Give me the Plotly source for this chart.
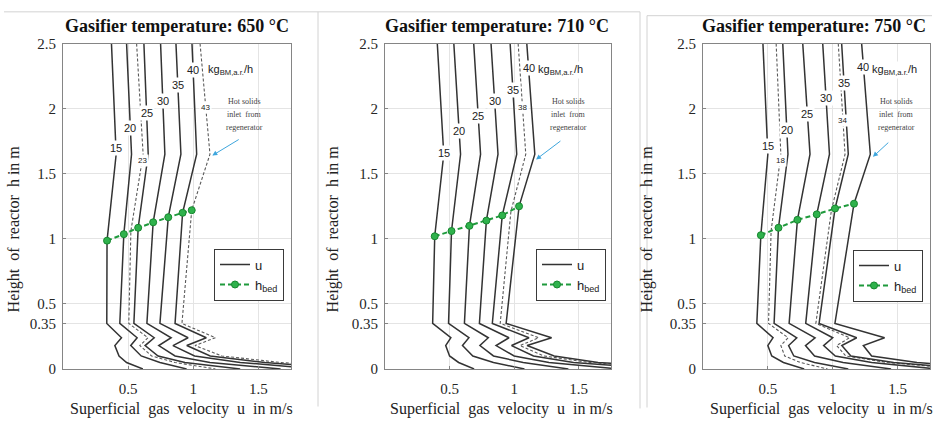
import numpy as np
import plotly.graph_objects as go

# ---------------------------------------------------------------------------
# Data: superficial gas velocity profiles u(h) for different fuel loads
# Each profile row holds u (m/s) at the heights
#   2.5 m (top), hot-solids inlet, bed surface (h_bed), 0.35 m,
#   0.24 m, 0.18 m, 0.10 m, 0.05 m, 0.0 m
# ---------------------------------------------------------------------------
H_TOP = 2.5
H_INLET = 1.65
H_FREEBOARD = 0.35
H_PEAK = 0.24
H_NOTCH = 0.18
H_TAIL = [0.10, 0.05, 0.0]

# 650 °C
LOADS_650 = [15, 20, 23, 25, 30, 35, 40, 43]
DASHED_650 = [23, 43]
H_BED_650 = [0.986, 1.036, 1.06, 1.085, 1.127, 1.166, 1.20, 1.22]
U_650 = [
    [0.372, 0.408, 0.338, 0.336, 0.449, 0.398, 0.430, 0.488, 0.613],
    [0.488, 0.526, 0.467, 0.436, 0.569, 0.520, 0.600, 0.744, 0.949],
    [0.565, 0.615, 0.521, 0.505, 0.652, 0.590, 0.680, 0.860, 1.170],
    [0.621, 0.654, 0.577, 0.544, 0.700, 0.630, 0.730, 0.936, 1.360],
    [0.749, 0.782, 0.692, 0.644, 0.830, 0.735, 0.860, 1.128, 1.670],
    [0.867, 0.905, 0.808, 0.744, 0.960, 0.844, 1.010, 1.360, 1.970],
    [0.990, 1.026, 0.918, 0.860, 1.100, 0.950, 1.130, 1.550, 2.200],
    [1.052, 1.128, 0.988, 0.913, 1.170, 1.013, 1.220, 1.670, 2.360],
]
BED_MARKS_650 = [15, 20, 25, 30, 35, 40, 43]
LABEL_H_650 = [1.70, 1.85, 1.60, 1.97, 2.06, 2.18, 2.30, 2.01]

# 710 °C
LOADS_710 = [15, 20, 25, 30, 35, 38, 40]
DASHED_710 = [38]
H_BED_710 = [1.02, 1.06, 1.10, 1.14, 1.18, 1.21, 1.25]
U_710 = [
    [0.405, 0.455, 0.385, 0.369, 0.510, 0.470, 0.500, 0.570, 0.690],
    [0.533, 0.585, 0.515, 0.492, 0.650, 0.600, 0.680, 0.840, 1.080],
    [0.687, 0.740, 0.654, 0.615, 0.800, 0.735, 0.840, 1.070, 1.420],
    [0.821, 0.875, 0.785, 0.731, 0.960, 0.860, 1.000, 1.270, 1.810],
    [0.969, 1.020, 0.908, 0.831, 1.115, 0.980, 1.150, 1.460, 2.120],
    [1.031, 1.090, 0.975, 0.892, 1.190, 1.045, 1.230, 1.580, 2.270],
    [1.098, 1.160, 1.038, 0.938, 1.290, 1.100, 1.310, 1.650, 2.420],
]
BED_MARKS_710 = [15, 20, 25, 30, 35, 40]
LABEL_H_710 = [1.66, 1.83, 1.94, 2.06, 2.14, 2.01, 2.31]

# 750 °C
LOADS_750 = [15, 18, 20, 25, 30, 34, 35, 40]
DASHED_750 = [18, 34]
H_BED_750 = [1.028, 1.06, 1.085, 1.146, 1.188, 1.22, 1.233, 1.27]
U_750 = [
    [0.462, 0.500, 0.446, 0.415, 0.540, 0.500, 0.530, 0.620, 0.780],
    [0.564, 0.600, 0.525, 0.505, 0.656, 0.600, 0.630, 0.750, 0.960],
    [0.615, 0.655, 0.582, 0.548, 0.723, 0.660, 0.700, 0.860, 1.120],
    [0.769, 0.825, 0.728, 0.664, 0.864, 0.790, 0.860, 1.080, 1.450],
    [0.923, 0.975, 0.877, 0.792, 1.000, 0.930, 1.020, 1.300, 1.800],
    [1.043, 1.095, 0.990, 0.870, 1.130, 1.030, 1.100, 1.420, 2.000],
    [1.069, 1.120, 1.018, 0.895, 1.185, 1.070, 1.140, 1.470, 2.050],
    [1.223, 1.290, 1.164, 1.017, 1.400, 1.236, 1.300, 1.650, 2.300],
]
BED_MARKS_750 = [15, 20, 25, 30, 35, 40]
LABEL_H_750 = [1.71, 1.60, 1.84, 1.96, 2.08, 1.91, 2.20, 2.32]

TEMPERATURES = ["650", "710", "750"]
X_TICKS = [0.5, 1, 1.5]
X_TICK_TEXT = ["0.5", "1", "1.5"]
Y_TICKS = [0, 0.35, 0.5, 1, 1.5, 2, 2.5]
Y_TICK_TEXT = ["0", "0.35", "0.5", "1", "1.5", "2", "2.5"]
NOTE_LINES = ["Hot solids", "inlet  from", "regenerator"]

# ---------------------------------------------------------------------------
# Layout constants (pixels of the 940 x 428 canvas)
# ---------------------------------------------------------------------------
W, H = 940, 428
PLOT_X = [(63, 291), (385, 611), (703, 930)]
PLOT_TOP, PLOT_BOTTOM = 37, 375
TITLE_CX = [177, 497, 814]
XTITLE_CX = [181, 501, 821]
YTITLE_X = [14, 333, 647]
KG_U = [1.10, 1.17, 1.29]
NOTE_U = [1.39, 1.42, 1.49]
NOTE_H = [2.056, 1.953, 1.857]
ARROW = [((1.36, 1.77), (1.146, 1.64)),
         ((1.37, 1.76), (1.17, 1.61)),
         ((1.44, 1.75), (1.31, 1.63))]
LEGEND_BOX = [(284, 250), (606, 250), (923, 251)]

SERIF = "Liberation Serif, Times New Roman, serif"
SANS = "Liberation Sans, Arial, sans-serif"
CURVE_COLOR = "#333333"
DASH_COLOR = "#5a5a5a"
GREEN = "#1f9a3c"


def px_x(p):
    return p / W


def px_y(p):
    return 1 - p / H


panels = [
    (LOADS_650, DASHED_650, H_BED_650, U_650, BED_MARKS_650, LABEL_H_650),
    (LOADS_710, DASHED_710, H_BED_710, U_710, BED_MARKS_710, LABEL_H_710),
    (LOADS_750, DASHED_750, H_BED_750, U_750, BED_MARKS_750, LABEL_H_750),
]

fig = go.Figure()
annotations = []
layout_axes = {}

for i, (loads, dashed, h_bed, u_rows, bed_marks, label_h) in enumerate(panels):
    n = i + 1
    sfx = "" if n == 1 else str(n)
    xref, yref = "x" + sfx, "y" + sfx
    legend_name = "legend" + sfx

    bed_u, bed_h = [], []
    first_solid = True
    for load, hb, u_prof, lh in zip(loads, h_bed, u_rows, label_h):
        h_prof = [H_TOP, H_INLET, hb, H_FREEBOARD, H_PEAK, H_NOTCH] + H_TAIL
        is_dashed = load in dashed
        show = (not is_dashed) and first_solid
        if show:
            first_solid = False
        fig.add_trace(go.Scatter(
            x=u_prof, y=h_prof, mode="lines",
            line=dict(color=DASH_COLOR if is_dashed else CURVE_COLOR,
                      width=1.1 if is_dashed else 1.5,
                      dash="3px,2px" if is_dashed else "solid"),
            name="u", showlegend=show, legend=legend_name,
            xaxis=xref, yaxis=yref, hoverinfo="skip"))
        if load in bed_marks:
            bed_u.append(u_prof[2])
            bed_h.append(hb)
        # inline curve label, placed on the curve in its upper section
        lu = float(np.interp(lh, h_prof[:3][::-1], u_prof[:3][::-1]))
        annotations.append(dict(
            x=lu, y=lh, xref=xref, yref=yref, text=str(load), showarrow=False,
            xanchor="center", yanchor="middle", bgcolor="white", borderpad=1,
            font=dict(family=SANS, size=8 if is_dashed else 11, color="#222")))

    fig.add_trace(go.Scatter(
        x=bed_u, y=bed_h, mode="lines+markers",
        line=dict(color=GREEN, width=2, dash="5px,3px"),
        marker=dict(symbol="circle", size=7, color="#2fb24c",
                    line=dict(color="#17872f", width=1)),
        name="h<sub>bed</sub>", showlegend=True, legend=legend_name,
        xaxis=xref, yaxis=yref, hoverinfo="skip"))

    x0, x1 = PLOT_X[i]
    layout_axes["xaxis" + sfx] = dict(
        domain=[px_x(x0), px_x(x1)], range=[0, 1.75], anchor=yref,
        tickvals=X_TICKS, ticktext=X_TICK_TEXT, showgrid=True,
        gridcolor="#e4e4e4", gridwidth=1, zeroline=False, showline=True,
        mirror=True, linecolor="#858585", linewidth=1, ticks="inside",
        ticklen=3, tickcolor="#858585", ticklabelstandoff=6,
        tickfont=dict(family=SERIF, size=15, color="#262626"))
    layout_axes["yaxis" + sfx] = dict(
        domain=[px_y(PLOT_BOTTOM), px_y(PLOT_TOP)], range=[0, 2.5],
        anchor=xref, tickvals=Y_TICKS, ticktext=Y_TICK_TEXT, showgrid=True,
        gridcolor="#e4e4e4", gridwidth=1, zeroline=False, showline=True,
        mirror=True, linecolor="#858585", linewidth=1, ticks="inside",
        ticklen=3, tickcolor="#858585", ticklabelstandoff=3,
        tickfont=dict(family=SERIF, size=15, color="#262626"))

    lx, ly = LEGEND_BOX[i]
    layout_axes[legend_name] = dict(
        x=px_x(lx), y=px_y(ly), xanchor="right", yanchor="top",
        bgcolor="white", bordercolor="#3a3a3a", borderwidth=1,
        itemwidth=30, tracegroupgap=0, traceorder="normal",
        font=dict(family=SANS, size=13, color="#222"))

    # panel title
    annotations.append(dict(
        x=px_x(TITLE_CX[i]), y=px_y(19), xref="paper", yref="paper",
        xanchor="center", yanchor="middle",
        text=f"<b>Gasifier temperature: {TEMPERATURES[i]} °C</b>",
        showarrow=False, font=dict(family=SERIF, size=18, color="#111")))
    # axis titles
    annotations.append(dict(
        x=px_x(XTITLE_CX[i]), y=px_y(417), xref="paper", yref="paper",
        xanchor="center", yanchor="middle",
        text="Superficial  gas  velocity  u  in m/s", showarrow=False,
        font=dict(family=SERIF, size=16, color="#222")))
    annotations.append(dict(
        x=px_x(YTITLE_X[i]), y=px_y(230), xref="paper", yref="paper",
        xanchor="center", yanchor="middle",
        text="Height  of  reactor  h in m", textangle=-90, showarrow=False,
        font=dict(family=SERIF, size=16, color="#222")))
    # fuel-load unit
    annotations.append(dict(
        x=KG_U[i], y=2.30, xref=xref, yref=yref, xanchor="left",
        yanchor="middle", text="kg<sub>BM,a.r.</sub>/h", showarrow=False,
        bgcolor="white", borderpad=1,
        font=dict(family=SANS, size=11, color="#222")))
    # hot solids inlet note and arrow
    for line_text, nh in zip(NOTE_LINES, NOTE_H):
        annotations.append(dict(
            x=NOTE_U[i], y=nh, xref=xref, yref=yref, xanchor="center",
            yanchor="middle", text=line_text, showarrow=False,
            font=dict(family=SERIF, size=8, color="#444")))
    (tu, th), (hu, hh) = ARROW[i]
    annotations.append(dict(
        x=hu, y=hh, ax=tu, ay=th, xref=xref, yref=yref, axref=xref,
        ayref=yref, text="", showarrow=True, arrowhead=2, arrowsize=1,
        arrowwidth=1, arrowcolor="#3ea6dd"))

# light frame lines around the three panel images
frame = "#d2d2d2"
shapes = [
    dict(type="line", xref="paper", yref="paper", x0=px_x(4), x1=px_x(640),
         y0=px_y(4), y1=px_y(4), line=dict(color=frame, width=1)),
    dict(type="line", xref="paper", yref="paper", x0=px_x(318), x1=px_x(318),
         y0=px_y(4), y1=px_y(414), line=dict(color=frame, width=1)),
    dict(type="line", xref="paper", yref="paper", x0=px_x(640), x1=px_x(640),
         y0=px_y(4), y1=px_y(416), line=dict(color=frame, width=1)),
    dict(type="line", xref="paper", yref="paper", x0=px_x(647), x1=px_x(932),
         y0=px_y(8), y1=px_y(8), line=dict(color=frame, width=1)),
    dict(type="line", xref="paper", yref="paper", x0=px_x(647), x1=px_x(647),
         y0=px_y(8), y1=px_y(415), line=dict(color=frame, width=1)),
]

fig.update_layout(
    width=W, height=H, margin=dict(l=0, r=0, t=0, b=0),
    paper_bgcolor="white", plot_bgcolor="white",
    annotations=annotations, shapes=shapes, **layout_axes)

fig.write_html("out.html")
